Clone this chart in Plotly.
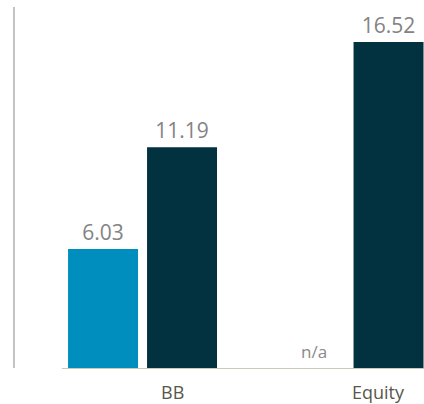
import plotly.graph_objects as go

categories = ["BB", "Equity"]
series_a = [6.03, None]
series_b = [11.19, 16.52]
labels_a = ["6.03", ""]
labels_b = ["11.19", "16.52"]
missing_label = "n/a"

xpos = list(range(len(categories)))

fig = go.Figure()
fig.add_trace(go.Bar(
    x=xpos, y=series_a, text=labels_a, textposition="outside",
    marker=dict(color="#008ebf", line=dict(width=0)),
    textfont=dict(color="#838383", size=21), cliponaxis=False,
))
fig.add_trace(go.Bar(
    x=xpos, y=series_b, text=labels_b, textposition="outside",
    marker=dict(color="#02323f", line=dict(width=0)),
    textfont=dict(color="#838383", size=21), cliponaxis=False,
))

annotations = []
for i, c in enumerate(categories):
    annotations.append(dict(
        x=i + 0.145, y=0, xref="x", yref="y", text=c, showarrow=False,
        xanchor="center", yanchor="top", yshift=-10,
        font=dict(size=18, color="#57574b"),
    ))
for i, v in enumerate(series_a):
    if v is None:
        annotations.append(dict(
            x=i - 0.172, y=0, xref="x", yref="y", text=missing_label, showarrow=False,
            xanchor="center", yanchor="bottom", yshift=3,
            font=dict(size=17, color="#8a8a8a"),
        ))

fig.update_layout(
    width=424, height=404,
    margin=dict(l=14, r=0, t=7, b=36, pad=0),
    paper_bgcolor="white", plot_bgcolor="white",
    font=dict(family="Open Sans, sans-serif"),
    showlegend=False,
    barmode="group", bargap=0.235, bargroupgap=0.114,
    xaxis=dict(
        domain=[48 / 410, 1], range=[-0.39, 1.363],
        showgrid=False, zeroline=False, showticklabels=False, ticks="",
        showline=True, linecolor="#cbc7bb", linewidth=1,
    ),
    yaxis=dict(
        range=[0, 18.3], anchor="free", position=0,
        showgrid=False, zeroline=False, showticklabels=False, ticks="",
        showline=True, linecolor="#c4c4c4", linewidth=2,
    ),
    annotations=annotations,
)

fig.write_html("out.html", config={"displayModeBar": False},
               post_script="document.body.style.margin='0px';")
